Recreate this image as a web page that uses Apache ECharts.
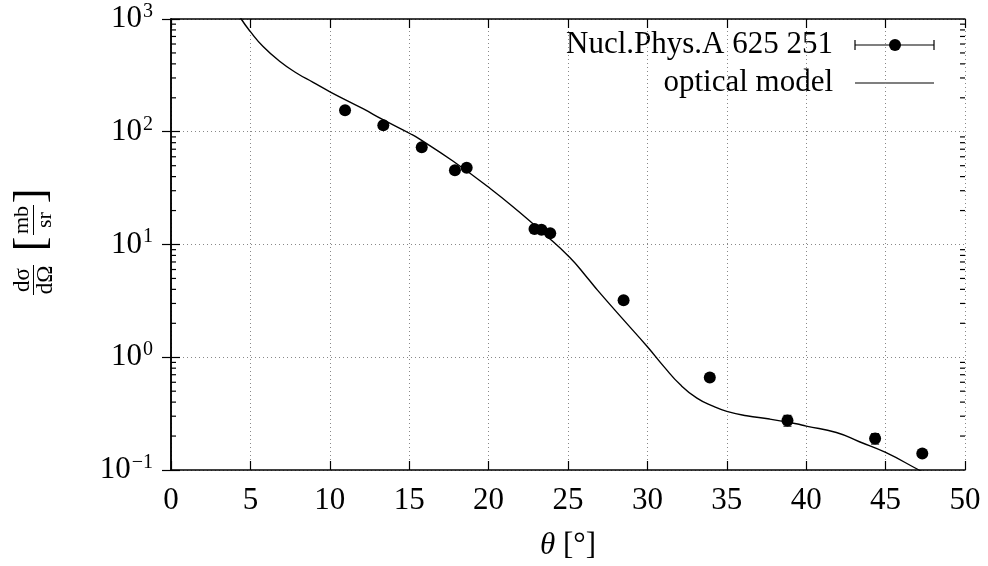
<!DOCTYPE html>
<html>
<head>
<meta charset="utf-8">
<script src="https://cdn.jsdelivr.net/npm/echarts@6/dist/echarts.min.js"></script>
<style>
  html, body { margin: 0; padding: 0; background: #fff; }
  #chart { width: 988px; height: 566px; }
</style>
</head>
<body>
<div id="chart"></div>
<script>
// measured points (Nucl.Phys.A 625 251)
const thetaData = [10.96, 13.37, 15.79, 17.88, 18.62, 22.89, 23.33, 23.88, 28.5, 33.93, 38.82, 44.34, 47.31]
const sigmaData = [155, 114, 73, 45.5, 48, 13.7, 13.5, 12.6, 3.2, 0.66, 0.275, 0.19, 0.14]
const sigmaErr = [4, 3, 2, 1.2, 1.2, 0.4, 0.4, 0.35, 0.09, 0.02, 0.03, 0.02, 0.004]

// optical model curve
const modelTheta = [4.2, 4.42, 5, 5.8, 6.86, 7.9, 8.95, 10.04, 12.09, 13.35, 15.07, 15.66, 17.75, 20.1, 21.95, 23.4, 25.1, 26.2, 26.87, 28.43, 30, 31.04, 32.08, 33.12, 34.17, 35, 36.25, 37.7, 39.37, 40, 41.9, 43.35, 45, 47.1, 48]
const modelSigma = [1150, 1000, 772, 570, 420, 332, 274, 225, 160, 128, 96, 86, 55, 31.4, 19.3, 12.8, 7.7, 5.1, 3.92, 2.2, 1.24, 0.826, 0.569, 0.434, 0.366, 0.331, 0.303, 0.283, 0.257, 0.245, 0.215, 0.178, 0.143, 0.1, 0.086]

// minor ticks of the log axis (2..9 per decade)
const minorTickValues = []
for (let e = -1; e < 3; e++) {
    for (let m = 2; m <= 9; m++) minorTickValues.push(m * Math.pow(10, e))
}

const FONT = 'Liberation Serif'
const FS = 31
const chart = echarts.init(document.getElementById('chart'))

const gridLine = { show: true, lineStyle: { color: '#888', width: 1, type: [1, 3] } }
const axisLine = { show: true, lineStyle: { color: '#000', width: 1.5 } }
const majorTick = { show: true, inside: true, length: 9, lineStyle: { color: '#000', width: 1.2 } }

const supLabel = {
    fontFamily: FONT,
    color: '#000',
    margin: 18,
    formatter: (v) => '{b|10}{s|' + String(Math.round(Math.log10(v))).replace('-', '\u2212') + '}',
    rich: {
        b: { fontFamily: FONT, fontSize: FS, color: '#000' },
        s: { fontFamily: FONT, fontSize: 20, color: '#000', padding: [0, 0, 15, 1] },
    },
}

const serif = (size) => size + 'px "' + FONT + '"'

const option = {
    animation: false,
    backgroundColor: '#fff',
    grid: { left: 171, right: 23, top: 19, bottom: 94 },
    xAxis: [
        {
            type: 'value',
            min: 0,
            max: 50,
            interval: 5,
            name: '{i|θ} [°]',
            nameLocation: 'middle',
            nameGap: 60,
            nameTextStyle: {
                rich: {
                    i: { fontFamily: FONT, fontStyle: 'italic', fontSize: FS, color: '#000' },
                },
                fontFamily: FONT,
                fontSize: FS,
                color: '#000',
            },
            axisLine: axisLine,
            axisTick: majorTick,
            axisLabel: { fontFamily: FONT, fontSize: FS, color: '#000', margin: 15 },
            splitLine: gridLine,
        },
        {
            type: 'value',
            position: 'top',
            min: 0,
            max: 50,
            interval: 5,
            axisLine: axisLine,
            axisTick: majorTick,
            axisLabel: { show: false },
            splitLine: { show: false },
        },
    ],
    yAxis: [
        {
            type: 'log',
            logBase: 10,
            min: 0.1,
            max: 1000,
            axisLine: axisLine,
            axisTick: majorTick,
            axisLabel: supLabel,
            splitLine: gridLine,
        },
        {
            type: 'log',
            logBase: 10,
            min: 0.1,
            max: 1000,
            position: 'right',
            axisLine: axisLine,
            axisTick: majorTick,
            axisLabel: { show: false },
            splitLine: { show: false },
        },
    ],
    graphic: [
        // y axis title: dσ/dΩ [mb/sr], rotated
        {
            type: 'group',
            x: 33.5,
            y: 248,
            rotation: Math.PI / 2,
            children: [
                { type: 'text', x: -32, y: -11, style: { text: 'dσ', font: serif(23), fill: '#000', align: 'center', verticalAlign: 'middle' } },
                { type: 'line', shape: { x1: -47, y1: 0, x2: -17, y2: 0 }, style: { stroke: '#000', lineWidth: 1 } },
                { type: 'text', x: -32, y: 12, style: { text: 'dΩ', font: serif(23), fill: '#000', align: 'center', verticalAlign: 'middle' } },
                { type: 'text', x: 4, y: -1, style: { text: '[', font: serif(44), fill: '#000', align: 'center', verticalAlign: 'middle' } },
                { type: 'text', x: 28, y: -11, style: { text: 'mb', font: serif(22), fill: '#000', align: 'center', verticalAlign: 'middle' } },
                { type: 'line', shape: { x1: 13, y1: 0, x2: 43, y2: 0 }, style: { stroke: '#000', lineWidth: 1 } },
                { type: 'text', x: 28, y: 12, style: { text: 'sr', font: serif(22), fill: '#000', align: 'center', verticalAlign: 'middle' } },
                { type: 'text', x: 52, y: -1, style: { text: ']', font: serif(44), fill: '#000', align: 'center', verticalAlign: 'middle' } },
            ],
        },
        // legend
        { type: 'text', x: 833, y: 45, style: { text: 'Nucl.Phys.A 625 251', font: serif(FS), fill: '#000', align: 'right', verticalAlign: 'middle' } },
        { type: 'text', x: 833, y: 83, style: { text: 'optical model', font: serif(FS), fill: '#000', align: 'right', verticalAlign: 'middle' } },
        { type: 'line', shape: { x1: 855, y1: 45, x2: 934, y2: 45 }, style: { stroke: '#000', lineWidth: 1.2 } },
        { type: 'line', shape: { x1: 855, y1: 40, x2: 855, y2: 50 }, style: { stroke: '#000', lineWidth: 1.2 } },
        { type: 'line', shape: { x1: 934, y1: 40, x2: 934, y2: 50 }, style: { stroke: '#000', lineWidth: 1.2 } },
        { type: 'circle', shape: { cx: 895, cy: 45, r: 6 }, style: { fill: '#000' } },
        { type: 'line', shape: { x1: 855, y1: 83, x2: 934, y2: 83 }, style: { stroke: '#000', lineWidth: 1.2 } },
    ],
    series: [
        {
            // minor ticks on the left and right of the log axis
            type: 'custom',
            silent: true,
            data: minorTickValues.map((v) => [0, v]),
            encode: { x: 0, y: 1 },
            renderItem: (params, api) => {
                const p = api.coord([0, api.value(1)])
                const right = params.coordSys.x + params.coordSys.width
                return {
                    type: 'group',
                    children: [
                        { type: 'line', shape: { x1: p[0], y1: p[1], x2: p[0] + 5, y2: p[1] }, style: { stroke: '#000', lineWidth: 1.2 } },
                        { type: 'line', shape: { x1: right, y1: p[1], x2: right - 5, y2: p[1] }, style: { stroke: '#000', lineWidth: 1.2 } },
                    ],
                }
            },
            z: 3,
        },
        {
            name: 'optical model',
            type: 'line',
            data: modelTheta.map((t, i) => [t, modelSigma[i]]),
            smooth: 0.5,
            showSymbol: false,
            clip: true,
            lineStyle: { color: '#000', width: 1.4 },
            z: 4,
        },
        {
            // error bars
            type: 'custom',
            silent: true,
            data: thetaData.map((t, i) => [t, sigmaData[i] - sigmaErr[i], sigmaData[i] + sigmaErr[i]]),
            renderItem: (params, api) => {
                const lo = api.coord([api.value(0), api.value(1)])
                const hi = api.coord([api.value(0), api.value(2)])
                return {
                    type: 'group',
                    children: [
                        { type: 'line', shape: { x1: lo[0], y1: lo[1], x2: hi[0], y2: hi[1] }, style: { stroke: '#000', lineWidth: 1.2 } },
                        { type: 'line', shape: { x1: lo[0] - 4, y1: lo[1], x2: lo[0] + 4, y2: lo[1] }, style: { stroke: '#000', lineWidth: 1.2 } },
                        { type: 'line', shape: { x1: hi[0] - 4, y1: hi[1], x2: hi[0] + 4, y2: hi[1] }, style: { stroke: '#000', lineWidth: 1.2 } },
                    ],
                }
            },
            z: 5,
        },
        {
            name: 'Nucl.Phys.A 625 251',
            type: 'scatter',
            data: thetaData.map((t, i) => [t, sigmaData[i]]),
            symbol: 'circle',
            symbolSize: 12,
            itemStyle: { color: '#000', opacity: 1 },
            z: 6,
        },
    ],
}

chart.setOption(option)
</script>
</body>
</html>
